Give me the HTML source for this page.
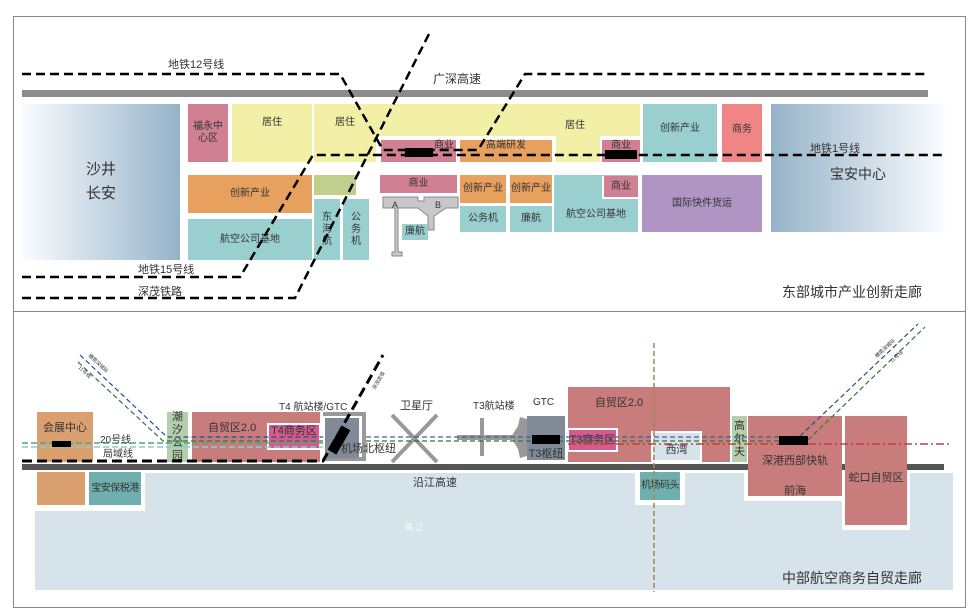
<!DOCTYPE html>
<html><head><meta charset="utf-8"><style>
*{margin:0;padding:0;box-sizing:border-box}
body{width:979px;height:615px;background:#fff;position:relative;overflow:hidden;font-family:"Liberation Sans","Noto Sans CJK SC",sans-serif;color:#333}
.b{position:absolute;display:flex;align-items:center;justify-content:center;text-align:center;font-size:10px;line-height:12px}
.t{position:absolute;white-space:nowrap;font-size:11px}
.pk{background:#d17f92}.ye{background:#f2f0a6}.or{background:#e7a05d}.te{background:#99cfcf}.pu{background:#b094c4}
.rd{background:#c87c7c}
.nw{white-space:nowrap}
</style></head><body>
<div style="position:absolute;left:13px;top:16px;width:953px;height:592px;border:1px solid #888"></div>
<div style="position:absolute;left:13px;top:311px;width:953px;height:1px;background:#888"></div>

<!-- TOP -->
<div style="position:absolute;left:22px;top:90px;width:906px;height:7px;background:#8c8c8c"></div>
<div class="b" style="left:22px;top:104px;width:158px;height:156px;background:linear-gradient(90deg,#fafcff,#95b3c8);font-size:15px;line-height:24px">沙井<br>长安</div>
<div class="b" style="left:771px;top:104px;width:174px;height:128px;background:linear-gradient(90deg,#95b3c8,#fafcff);font-size:14px;padding-top:12px">宝安中心</div>
<div class="b pk" style="left:188px;top:104px;width:40px;height:58px">福永中<br>心区</div>
<div class="b ye" style="left:232px;top:104px;width:80px;height:58px;padding-bottom:20px">居住</div>
<div class="b ye" style="left:314px;top:104px;width:326px;height:32px"></div>
<div class="b ye" style="left:314px;top:104px;width:62px;height:58px;padding-bottom:20px">居住</div>
<div class="b" style="left:540px;top:104px;width:70px;height:46px;padding-bottom:2px">居住</div>
<div class="b ye" style="left:556px;top:136px;width:44px;height:26px"></div>
<div class="b pk" style="left:381px;top:140px;width:75px;height:22px;justify-content:flex-end;align-items:flex-start;padding-right:2px">商业</div>
<div class="b or" style="left:460px;top:140px;width:92px;height:22px;align-items:flex-start">高端研发</div>
<div class="b pk" style="left:602px;top:140px;width:38px;height:22px;align-items:flex-start">商业</div>
<div class="b te" style="left:643px;top:104px;width:74px;height:58px;padding-bottom:8px">创新产业</div>
<div class="b" style="left:722px;top:104px;width:40px;height:58px;background:#ef8585;padding-bottom:6px">商务</div>

<div class="b or" style="left:188px;top:175px;width:124px;height:38px">创新产业</div>
<div class="b te" style="left:188px;top:219px;width:124px;height:41px">航空公司基地</div>
<div class="b" style="left:314px;top:175px;width:42px;height:20px;background:#bfcf8c"></div>
<div class="b te" style="left:314px;top:199px;width:26px;height:61px">东<br>海<br>航</div>
<div class="b te" style="left:343px;top:199px;width:26px;height:61px">公<br>务<br>机</div>
<div class="b pk" style="left:380px;top:175px;width:77px;height:18px">商业</div>
<svg style="position:absolute;left:380px;top:194px" width="80" height="64"><path d="M3,3 H38 V7 H44 V3 H78 V14 H66 L54,22 V36 H48 V22 L38,14 H18 V58 H22 V62 H12 V58 H15 V14 H3 Z" fill="#c8c8cc" stroke="#888"/><text x="12" y="14" font-size="9" fill="#333">A</text><text x="55" y="14" font-size="9" fill="#333">B</text></svg>
<div class="b te" style="left:402px;top:224px;width:26px;height:16px">廉航</div>
<div class="b or nw" style="left:460px;top:175px;width:46px;height:28px">创新产业</div>
<div class="b te" style="left:460px;top:206px;width:46px;height:26px">公务机</div>
<div class="b or nw" style="left:510px;top:175px;width:42px;height:28px">创新产业</div>
<div class="b te" style="left:510px;top:206px;width:42px;height:26px">廉航</div>
<div class="b te" style="left:554px;top:175px;width:84px;height:57px;padding-top:22px">航空公司基地</div>
<div class="b pk" style="left:602px;top:176px;width:36px;height:23px;border-left:2px solid #fff;border-bottom:2px solid #fff">商业</div>
<div class="b pu" style="left:642px;top:175px;width:120px;height:57px">国际快件货运</div>
<div style="position:absolute;left:405px;top:148px;width:28px;height:9px;background:#000"></div>
<div style="position:absolute;left:605px;top:150px;width:32px;height:9px;background:#000"></div>

<svg style="position:absolute;left:0;top:0" width="979" height="615">
<g fill="none" stroke="#000" stroke-width="2.5" stroke-dasharray="9,5">
<polyline points="22,74 340,74 383,150 478,150 525,74 928,74"/>
<polyline points="22,277 240,277 313,155 945,155"/>
<polyline points="22,298 295,298 430,32"/>
</g>
</svg>
<div class="t" style="left:168px;top:56px">地铁12号线</div>
<div class="t" style="left:433px;top:70px;font-size:12px">广深高速</div>
<div class="t" style="left:138px;top:261px">地铁15号线</div>
<div class="t" style="left:138px;top:283px">深茂铁路</div>
<div class="t" style="left:810px;top:140px">地铁1号线</div>
<div class="t" style="left:782px;top:282px;font-size:14px">东部城市产业创新走廊</div>

<!-- BOTTOM -->
<div style="position:absolute;left:35px;top:473px;width:918px;height:117px;background:#d7e3ea"></div>
<div style="position:absolute;left:22px;top:470px;width:123px;height:41px;background:#fff"></div>
<div class="b" style="left:37px;top:472px;width:48px;height:33px;background:#dba070"></div>
<div class="b nw" style="left:89px;top:472px;width:52px;height:33px;background:#6fb0ae;font-size:10px;letter-spacing:-0.5px">宝安保税港</div>
<div style="position:absolute;left:635px;top:470px;width:50px;height:35px;background:#fff"></div>
<div class="b nw" style="left:640px;top:472px;width:40px;height:28px;background:#6fb0ae;font-size:10px;letter-spacing:-0.5px">机场码头</div>
<div style="position:absolute;left:744px;top:470px;width:102px;height:31px;background:#fff"></div>
<div style="position:absolute;left:842px;top:470px;width:68px;height:60px;background:#fff"></div>
<div style="position:absolute;left:22px;top:464px;width:922px;height:6px;background:#555"></div>
<div class="b" style="left:37px;top:412px;width:56px;height:50px;background:#dba070;align-items:flex-start;padding-top:10px;font-size:11px">会展中心</div>
<div class="b" style="left:167px;top:412px;width:21px;height:50px;background:#b5cfad;font-size:11px;line-height:13px">潮<br>汐<br>公<br>园</div>
<div class="b rd" style="left:192px;top:412px;width:128px;height:50px;justify-content:flex-start;align-items:flex-start;padding:10px 0 0 16px;font-size:11px">自贸区2.0</div>
<div class="b" style="left:267px;top:423px;width:54px;height:27px;background:#d45c8c;border:2px solid #fff;align-items:flex-start;font-size:11px">T4商务区</div>
<div style="position:absolute;left:323px;top:412px;width:43px;height:49px;border:4px solid #999;border-left:none;background:#fff"></div>
<div style="position:absolute;left:325px;top:418px;width:34px;height:40px;background:#808a98"></div>
<div class="t" style="left:279px;top:398px;font-size:10px">T4 航站楼/GTC</div>
<div class="t" style="left:400px;top:397px;font-size:11px">卫星厅</div>
<div class="t" style="left:473px;top:397px;font-size:10px">T3航站楼</div>
<div class="t" style="left:533px;top:397px;font-size:10px">GTC</div>
<div class="b" style="left:527px;top:416px;width:38px;height:44px;background:#808a98;align-items:flex-end;font-size:11px">T3枢纽</div>
<div class="b rd" style="left:568px;top:387px;width:162px;height:75px;align-items:flex-start;padding:10px 60px 0 0;font-size:11px">自贸区2.0</div>
<div class="b" style="left:567px;top:428px;width:51px;height:24px;background:#d45c8c;border:2px solid #fff;font-size:11px">T3商务区</div>
<div class="b" style="left:651px;top:431px;width:51px;height:31px;background:#d7e3ea;border:2px solid #fff;font-size:11px;padding-top:6px">西湾</div>
<div class="b" style="left:732px;top:416px;width:15px;height:46px;background:#b5cfad;font-size:11px;line-height:13px">高<br>尔<br>夫</div>
<div class="b rd" style="left:748px;top:416px;width:94px;height:80px;align-items:flex-start;padding-top:30px;font-size:11px;line-height:30px">深港西部快轨<br>前海</div>
<div class="b rd" style="left:845px;top:416px;width:62px;height:109px;align-items:flex-start;padding-top:56px;font-size:11px">蛇口自贸区</div>

<svg style="position:absolute;left:0;top:0" width="979" height="615">
<g stroke="#999" stroke-width="4"><line x1="392" y1="415" x2="437" y2="462"/><line x1="437" y1="415" x2="392" y2="462"/></g>
<rect x="480" y="418" width="4" height="38" fill="#999"/>
<rect x="457" y="435" width="55" height="5" fill="#999"/>
<path d="M511,437 L518,426 L520,417 L527,419 V456 L520,458 L518,449 Z" fill="#999"/>
<g fill="none" stroke-width="1.2" stroke-dasharray="5,3">
<polyline stroke="#2a4a8a" points="80,355 167,437 323,437"/>
<polyline stroke="#2a7a3a" points="78,362 163,441 323,441"/>
<line stroke="#4a5a9a" x1="366" y1="437" x2="800" y2="437"/>
<line stroke="#2a7a3a" x1="366" y1="441" x2="780" y2="441"/>
<line stroke="#2a4a8a" x1="800" y1="436" x2="918" y2="324"/>
<line stroke="#2a7a3a" x1="808" y1="440" x2="925" y2="327"/>
</g>
<line x1="22" y1="443" x2="323" y2="443" stroke="#4aaa7a" stroke-width="1.5" stroke-dasharray="6,3"/>
<line x1="22" y1="447" x2="323" y2="447" stroke="#8cc8d8" stroke-width="1.5" stroke-dasharray="6,3"/>
<line x1="568" y1="444" x2="950" y2="444" stroke="#c04040" stroke-width="1.5" stroke-dasharray="8,3,2,3"/>
<line x1="654" y1="343" x2="654" y2="592" stroke="#a08850" stroke-width="1.5" stroke-dasharray="5,3"/>
<polyline points="22,461 323,461 383,355" fill="none" stroke="#000" stroke-width="3" stroke-dasharray="10,5"/>
<rect x="334" y="426" width="10" height="28" fill="#000" transform="rotate(30 339 440)"/>
<text x="88" y="356" font-size="5" fill="#333" transform="rotate(43 88 356)">穗莞深城际</text>
<text x="78" y="368" font-size="5" fill="#333" transform="rotate(43 78 368)">11号线</text>
<text x="375" y="390" font-size="5" fill="#333" transform="rotate(-60 375 390)">深茂高铁</text>
<text x="877" y="358" font-size="5" fill="#333" transform="rotate(-43 877 358)">穗莞深城际</text>
<text x="892" y="363" font-size="5" fill="#333" transform="rotate(-43 892 363)">11号线</text>
</svg>
<div style="position:absolute;left:52px;top:441px;width:19px;height:6px;background:#000"></div>
<div style="position:absolute;left:532px;top:435px;width:28px;height:9px;background:#000"></div>
<div style="position:absolute;left:779px;top:436px;width:29px;height:9px;background:#000"></div>
<div class="t" style="left:341px;top:440px;font-size:11px">机场北枢纽</div>
<div class="t" style="left:100px;top:431px;font-size:10px">20号线</div>
<div class="t" style="left:103px;top:445px;font-size:10px">局域线</div>
<div class="t" style="left:413px;top:474px;font-size:11px">沿江高速</div>
<div class="t" style="left:405px;top:522px;font-size:8px;color:#fff">珠 江</div>
<div class="t" style="left:782px;top:568px;font-size:14px">中部航空商务自贸走廊</div>
</body></html>
